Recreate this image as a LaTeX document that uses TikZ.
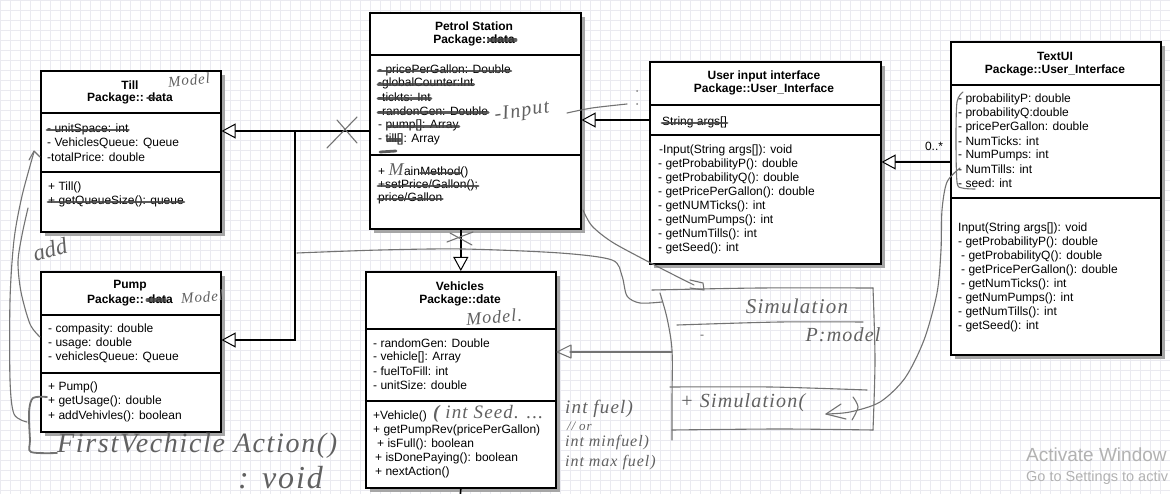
\documentclass[tikz,border=0pt]{standalone}
\usepackage{fontspec}
\setmainfont{Liberation Sans}
\newfontfamily\handfont{Liberation Serif}[LetterSpace=6]
\newfontfamily\handplain{Liberation Serif}
\usetikzlibrary{arrows.meta,shadows}

\definecolor{gridc}{HTML}{EAEAF0}
\newcommand\hf[1]{\handfont\itshape\fontsize{#1}{#1}\selectfont}

\tikzset{
  umlbox/.style={draw, line width=1.6pt, fill=white, anchor=north west, inner sep=0pt,
    drop shadow={shadow xshift=4pt, shadow yshift=-4pt, fill=black!35, opacity=1}},
  sep/.style={line width=1.6pt},
  ttl/.style={font=\bfseries\fontsize{12}{14}\selectfont, inner sep=0pt},
  ln/.style={anchor=west, inner sep=0pt, font=\fontsize{12}{14}\selectfont},
  inh/.style={line width=1.6pt, -{Triangle[open, fill=white, length=14pt, width=15pt, line width=1pt]}},
  strike/.style={line width=2.8pt, draw=black!75, line cap=round, opacity=.85},
  pencil/.style={draw=black!55, line width=1.1pt, line cap=round, line join=round},
  hand/.style={text=black!62, inner sep=0pt}
}

\begin{document}
\begin{tikzpicture}[x=1pt,y=-1pt]
\clip (0,0) rectangle (1170,494);
\fill[white] (0,0) rectangle (1170,494);
\draw[gridc, line width=.5pt] (0,494) grid[step=10pt] (1170,0);

% class boxes
\foreach \b/\x/\y/\w/\h in {till/40/70/180/161, petrol/369/12/211/216, ui/649/61/231/202,
    textui/950/41/210/313, pump/40/271/180/160, veh/365/271/190/216}
  \node[umlbox, minimum width=\w, minimum height=\h] (\b) at (\x,\y) {};
\foreach \b/\ya/\yb in {till/113/172, petrol/55/155, ui/105/135, textui/85/198, pump/315/373, veh/329/401} {
  \draw[sep] (\b.west |- 0,\ya) -- (\b.east |- 0,\ya);
  \draw[sep] (\b.west |- 0,\yb) -- (\b.east |- 0,\yb);
}

% titles
\node[ttl] (tillt) at (130,85) {Till};
\node[ttl] (tillp) at (130,98) {Package:: data};
\node[ttl] (petrolt) at (474,26) {Petrol Station};
\node[ttl] (petrolp) at (474,40) {Package::data};
\node[ttl] (uit) at (764,76) {User input interface};
\node[ttl] (uip) at (764,89) {Package::User\_Interface};
\node[ttl] (textuit) at (1055,56) {TextUI};
\node[ttl] (textuip) at (1055,70) {Package::User\_Interface};
\node[ttl] (pumpt) at (130,286) {Pump};
\node[ttl] (pumpp) at (130,300) {Package:: data};
\node[ttl] (veht) at (460,286) {Vehicles};
\node[ttl] (vehp) at (460,300) {Package::date};

% Till
\foreach \t [count=\i from 0] in {{- unitSpace: int}, {- VehiclesQueue: Queue}, {-totalPrice: double}}
  \node[ln] (tilla\i) at (47,129+14*\i) {\t};
\foreach \t [count=\i from 0] in {{+ Till()}, {+ getQueueSize(): queue}}
  \node[ln] (tillm\i) at (48,187+14*\i) {\t};

% Petrol Station
\foreach \t [count=\i from 0] in {{- pricePerGallon: Double}, {-globalCounter:Int}, {-tickts: Int},
    {-randonGen: Double}, {- pump[]: Array}, {- till[]: Array}}
  \node[ln] (petrola\i) at (378,70+13.8*\i) {\t};
\node[ln] (petrolm0) at (378,172) {+};
\node[hand, font=\hf{18}, anchor=base west] (petrolm0m) at ([xshift=3pt]petrolm0.base east) {M};
\node[ln, anchor=base west] (petrolm0a) at (petrolm0m.base east) {ain};
\node[ln, anchor=base west] (petrolm0b) at (petrolm0a.base east) {Method()};
\node[ln] (petrolm1) at (378,185) {+setPrice/Gallon();};
\node[ln] (petrolm2) at (378,198) {price/Gallon};

% User input interface
\node[ln] (uia0) at (662,122) {String args[]};
\foreach \x/\t [count=\i from 0] in {659/{-Input(String args[]): void}, 658/{- getProbabilityP(): double},
    658/{- getProbabilityQ(): double}, 658/{- getPricePerGallon(): double}, 658/{- getNUMTicks(): int},
    658/{- getNumPumps(): int}, 658/{- getNumTills(): int}, 658/{- getSeed(): int}}
  \node[ln] (uim\i) at (\x,150+14*\i) {\t};

% TextUI
\foreach \t [count=\i from 0] in {{- probabilityP: double}, {- probabilityQ:double}, {- pricePerGallon: double},
    {- NumTicks: int}, {- NumPumps: int}, {- NumTills: int}, {- seed: int}}
  \node[ln] (textuia\i) at (958,99+14*\i) {\t};
\foreach \x/\t [count=\i from 0] in {958/{Input(String args[]): void}, 958/{- getProbabilityP(): double},
    961/{- getProbabilityQ(): double}, 961/{- getPricePerGallon(): double}, 961/{- getNumTicks(): int},
    958/{- getNumPumps(): int}, 958/{- getNumTills(): int}, 958/{- getSeed(): int}}
  \node[ln] (textuim\i) at (\x,228+14*\i) {\t};

% Pump
\foreach \t [count=\i from 0] in {{- compasity: double}, {- usage: double}, {- vehiclesQueue: Queue}}
  \node[ln] (pumpa\i) at (48,329+14.2*\i) {\t};
\foreach \t [count=\i from 0] in {{+ Pump()}, {+ getUsage(): double}, {+ addVehivles(): boolean}}
  \node[ln] (pumpm\i) at (48,387+14.5*\i) {\t};

% Vehicles
\foreach \t [count=\i from 0] in {{- randomGen: Double}, {- vehicle[]: Array}, {- fuelToFill: int}, {- unitSize: double}}
  \node[ln] (veha\i) at (373,343+14*\i) {\t};
\foreach \x/\t [count=\i from 0] in {373/{+Vehicle()}, 373/{+ getPumpRev(pricePerGallon)}, 377/{+ isFull(): boolean},
    375/{+ isDonePaying(): boolean}, 375/{+ nextAction()}}
  \node[ln] (vehm\i) at (\x,416+14*\i) {\t};

% connectors
\coordinate (tj) at (295,131);
\coordinate (pj) at (295,340);
\coordinate (vehout) at (460,500);
\draw[inh] (petrol.west |- tj) -- (till.east |- tj);
\draw[inh] (tj) -- (pj) -- (pump.east |- pj);
\draw[inh] (petrol.south -| veh.north) -- (veh.north);
\draw[line width=1.6pt] (veh.south) -- (vehout);
\draw[inh] (ui.west |- 0,120) -- (petrol.east |- 0,120);
\draw[inh] (textui.west |- 0,162) -- (ui.east |- 0,162);
\node[ln, anchor=center] (mult) at (934,146) {0..*};

% crossed out
\foreach \n in {tilla0, tillm1, petrola0, petrola1, petrola2, petrola3, petrolm1, petrolm2, uia0}
  \draw[strike] ([yshift=-1pt]\n.west) -- ([yshift=-1pt]\n.east);
\draw[strike] ([xshift=10pt,yshift=-1pt]petrola4.west) -- ([yshift=-1pt]petrola4.east);
\draw[strike, line width=3.5pt] ([xshift=10pt,yshift=-1pt]petrola5.west) -- ([xshift=-40pt,yshift=-1pt]petrola5.west -| petrola5.east);
\draw[strike] (380,152) -- (396,151);
\draw[strike, line width=2.2pt] ([yshift=-1pt]petrolm0b.west) -- ([xshift=-8pt,yshift=-1pt]petrolm0b.east);
\draw[strike, line width=3.2pt] ([xshift=-26pt]petrolp.east) -- ([xshift=1pt]petrolp.east);
\draw[strike, line width=3.2pt] ([xshift=-26pt]pumpp.east) -- ([xshift=-8pt]pumpp.east);
\draw[strike, line width=2.2pt] ([xshift=-26pt]tillp.east) -- ([xshift=-18pt]tillp.east);

% pencil notes
\node[hand, font=\hf{15}, rotate=6] (tillnote) at (189,80) {Model};
\node[hand, font=\hf{15}, rotate=4] (pumpnote) at (202,297) {Model};
\node[hand, font=\hf{18}, rotate=4] (vehnote) at (494,317) {Model.};
\node[hand, font=\hf{20}, rotate=8] (inputnote) at (522,112) {-Input};
\node[hand, font=\handplain\itshape\fontsize{23}{23}\selectfont, rotate=15] (addnote) at (50,249) {add};
\node[hand, font=\hf{28}, anchor=west] (firstnote) at (57,446) {FirstVechicle Action()};
\node[hand, font=\hf{32}, anchor=west] (voidnote) at (238,478) {: void};
\node[hand, font=\hf{19}, anchor=west] (seednote) at (433,414) {\textbf{(} int Seed. ...};
\node[hand, font=\hf{19}, anchor=west] (fuelnote) at (565,409) {int fuel)};
\node[hand, font=\hf{13}, anchor=west] (ornote) at (567,426) {// or};
\node[hand, font=\hf{16}, anchor=west] (minnote) at (565,443) {int minfuel)};
\node[hand, font=\hf{16}, anchor=west] (maxnote) at (565,463) {int max fuel)};
\node[hand, font=\hf{21}] (simnote) at (797,306) {Simulation};
\node[hand, font=\hf{20}] (pnote) at (843,335) {P:model};
\node[hand, font=\hf{12}] (dashnote) at (702,337) {-};
\node[hand, font=\hf{20}, anchor=west] (simop) at (680,403) {+ Simulation(};

% pencil strokes
\draw[pencil] plot[smooth] coordinates {(297,253) (380,250) (463,249) (560,253) (612,260) (622,276) (627,296) (640,303) (662,302)};
\draw[pencil] plot[smooth] coordinates {(583,210) (592,226) (612,242) (645,260) (672,274) (694,285)};
\draw[pencil] (690,280) -- (703,283) -- (704,290) -- (690,288);
\draw[pencil] plot[smooth] coordinates {(652,290) (760,288) (873,288)};
\draw[pencil] plot[smooth] coordinates {(873,288) (875,360) (873,430)};
\draw[pencil] plot[smooth] coordinates {(660,293) (667,318) (672,350) (672,400) (672,440)};
\draw[pencil] plot[smooth] coordinates {(672,430) (780,429) (873,430)};
\draw[pencil] plot[smooth] coordinates {(677,325) (780,322) (863,322)};
\draw[pencil] plot[smooth] coordinates {(670,387) (770,387) (867,390)};
\draw[pencil] (672,352) -- (570,352);
\draw[pencil] (571,345) -- (557,352) -- (571,358) -- cycle;
\draw[pencil] plot[smooth] coordinates {(960,168) (947,182) (942,210) (941,250) (937,293) (924,340) (905,378) (880,402) (850,412) (826,414)};
\draw[pencil] (841,404) -- (826,414) -- (846,419);
\draw[pencil] plot[smooth] coordinates {(853,397) (858,407) (852,420)};
\draw[pencil] plot[smooth] coordinates {(963,92) (957,102) (956,140) (957,182) (962,188) (975,189)};
\draw[pencil] plot[smooth] coordinates {(27,422) (14,414) (10,380) (10,300) (14,240) (22,196) (34,152)};
\draw[pencil] (29,160) -- (34,151) -- (40,157);
\draw[pencil] plot[smooth] coordinates {(40,337) (30,324) (21,292) (18,262) (22,235) (28,208)};
\draw[pencil, line width=1.8pt] plot[smooth] coordinates {(47,397) (33,398) (29,412) (30,440) (31,452) (57,453)};
\draw[pencil] (327,148) -- (357,117);
\draw[pencil] (337,120) -- (357,143);
\draw[pencil] (447,242) -- (473,232);
\draw[pencil] (450,233) -- (472,245);
\draw[pencil] plot[smooth] coordinates {(567,113) (592,108) (627,104)};
\fill[black!50] (637,91) circle (1pt) (637,104) circle (1pt);

% watermark
\node[anchor=west, inner sep=0pt, text=black!30, font=\fontsize{19}{19}\selectfont] (wm1) at (1026,455) {Activate Window};
\node[anchor=west, inner sep=0pt, text=black!30, font=\fontsize{14.5}{15}\selectfont] (wm2) at (1026,478) {Go to Settings to activ};
\end{tikzpicture}
\end{document}
